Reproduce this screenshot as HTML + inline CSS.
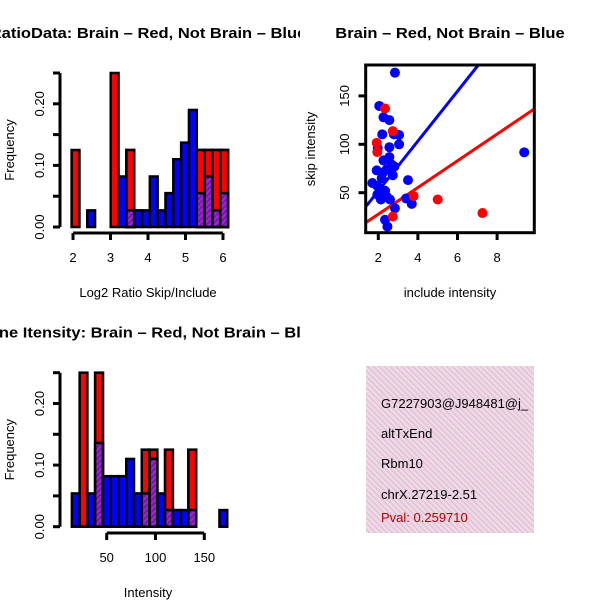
<!DOCTYPE html>
<html><head><meta charset="utf-8"><style>
html,body{margin:0;padding:0;background:#fff;}
svg{display:block;font-family:"Liberation Sans",sans-serif;}
</style></head><body>
<svg id="c" width="600" height="600" viewBox="0 0 600 600">
<defs>
<pattern id="hatchP" width="4" height="4" patternUnits="userSpaceOnUse" patternTransform="rotate(45)">
<rect width="4" height="4" fill="#a020f0"/><rect width="2" height="4" fill="#7a1a90"/></pattern>
<pattern id="hatchPink" width="4" height="4" patternUnits="userSpaceOnUse" patternTransform="rotate(-45)">
<rect width="4" height="4" fill="#f8d4f4"/><rect width="1.6" height="4" fill="#d6ccc2"/></pattern>
<clipPath id="clipL"><rect x="0" y="0" width="300" height="600"/></clipPath>
<clipPath id="clipS"><rect x="365.7" y="65" width="168.6" height="167.7"/></clipPath>
</defs>
<g id="h1"></g>
<g id="h2"></g>
<g id="sc"></g>
<g>
<rect x="366" y="366" width="168" height="167" fill="url(#hatchPink)"/>
<text x="381" y="408" font-size="13">G7227903@J948481@j_</text>
<text x="381" y="438" font-size="13">altTxEnd</text>
<text x="381" y="468" font-size="13">Rbm10</text>
<text x="381" y="499" font-size="13">chrX.27219-2.51</text>
<text x="381" y="522" font-size="13" fill="#b00000">Pval: 0.259710</text>
</g>
</svg>
<script>
// Histogram 1: log2 ratio, bin index -> heights
const h1Red = [0.125,0,0,0,0,0.25,0,0.125,0,0,0,0,0,0,0,0,0.125,0.125,0.125,0.125];
const h1Blue = [0,0,0.027,0,0,0,0.082,0.027,0.027,0.027,0.082,0.027,0.055,0.11,0.137,0.19,0.055,0.082,0.027,0.055];
const h1Start = 1.963, h1Width = 0.2086;
const h1XTicks = [2,3,4,5,6];
// Histogram 2: intensity
const h2Red = [0,0.25,0,0.25,0,0,0,0,0,0.125,0.125,0,0.125,0,0,0.125,0,0,0,0];
const h2Blue = [0.054,0,0.054,0.136,0.082,0.082,0.082,0.11,0.054,0.054,0.11,0.054,0.027,0.027,0.027,0.027,0,0,0,0.027];
const h2Start = 14.3, h2Width = 7.96;
const h2XTicks = [50,100,150];
const yTicks = [0,0.05,0.10,0.15,0.20,0.25];
const yTickLabels = ["0.00","","0.10","","0.20",""];
// Scatter
const blueX = [2.84,2.05,2.26,2.56,2.2,2.79,3.05,3.05,1.97,2.56,2.26,2.56,2.68,2.81,1.92,2.23,2.73,2.42,1.7,1.95,2.17,1.95,2.34,2.42,2.59,2.84,3.4,3.5,3.69,2.34,2.46,9.37,2.13];
const blueY = [174,139.6,127.9,125,110.3,110.3,109.6,100,96,97,83.4,86.8,79,77,73,70.7,68,74,60,57,65,48,52,46,43,34,44,63,38.5,22,15,91.7,43];
const redX = [2.34,1.92,1.95,2.73,3.78,5.0,7.26,2.73];
const redY = [137,101.5,92,113.6,46.5,43,29,25.3];
const blueFit = [0.35,25.75];
const redFit = [0.16,13.8];
const sxTicks = [2,4,6,8];
const syTicks = [50,100,150];

const NS="http://www.w3.org/2000/svg";
function mk(parent,tag,attrs,text){const e=document.createElementNS(NS,tag);for(const k in attrs)e.setAttribute(k,attrs[k]);if(text!==undefined)e.textContent=text;parent.appendChild(e);return e;}

function hist(g,red,blue,start,width,xTicks,xScale,y0,yAxisX,xAxisY,title,xlab,titleX){
  const yScale=v=>y0-v*616;
  for(let k=0;k<red.length;k++){
    const x1=xScale(start+k*width),x2=xScale(start+(k+1)*width);
    if(red[k]>0){const r=mk(g,'rect',{x:x1,y:yScale(red[k]),width:x2-x1,height:y0-yScale(red[k]),fill:'#ff0000',stroke:'#000','stroke-width':2.5});
      
      }
    if(blue[k]>0){const b=mk(g,'rect',{x:x1,y:yScale(blue[k]),width:x2-x1,height:y0-yScale(blue[k]),fill:'#0000ff',stroke:'#000','stroke-width':2.5});
      
      }
    const m=Math.min(red[k],blue[k]);
    if(m>0){
      if(red[k]>blue[k]){const r=mk(g,'rect',{x:x1,y:yScale(red[k]),width:x2-x1,height:y0-yScale(red[k]),fill:'#ff0000',stroke:'#000','stroke-width':2.5});
        
        }
      const p=mk(g,'rect',{x:x1,y:yScale(m),width:x2-x1,height:y0-yScale(m),fill:'url(#hatchP)',stroke:'#000','stroke-width':2.5});
      
      }
  }
  mk(g,'line',{x1:yAxisX,y1:yScale(0),x2:yAxisX,y2:yScale(0.25),stroke:'#000','stroke-width':3});
  yTicks.forEach((t,i)=>{const y=yScale(t);mk(g,'line',{x1:yAxisX-7,y1:y,x2:yAxisX,y2:y,stroke:'#000','stroke-width':3});
    if(yTickLabels[i]){const tl=mk(g,'text',{x:yAxisX-16,y:y,'font-size':13,'text-anchor':'middle',transform:`rotate(-90 ${yAxisX-16} ${y})`},yTickLabels[i]);
      
      }});
  const xa=xScale(xTicks[0]),xb=xScale(xTicks[xTicks.length-1]);
  mk(g,'line',{x1:xa,y1:xAxisY,x2:xb,y2:xAxisY,stroke:'#000','stroke-width':3});
  xTicks.forEach(t=>{const x=xScale(t);mk(g,'line',{x1:x,y1:xAxisY,x2:x,y2:xAxisY+7,stroke:'#000','stroke-width':3});
    const tl=mk(g,'text',{x:x,y:xAxisY+29,'font-size':13,'text-anchor':'middle'},String(t));
    
    });
  const yl=mk(g,'text',{x:14,y:y0-77,'font-size':13,'text-anchor':'middle',transform:`rotate(-90 14 ${y0-77})`},'Frequency');
  
  
  const xl=mk(g,'text',{x:148,y:xAxisY+64,'font-size':13,'text-anchor':'middle'},xlab);
  
  
  const tg=mk(g,'g',{'clip-path':'url(#clipL)'});
  const tt=mk(tg,'text',{x:titleX,y:y0-189,'font-size':14.5,'font-weight':'bold','text-anchor':'middle',transform:`translate(${titleX} 0) scale(1.14 1) translate(${-titleX} 0)`},title);
  
  
}
hist(document.getElementById('h1'),h1Red,h1Blue,h1Start,h1Width,h1XTicks,v=>73+(v-2)*37.5,227,60,233,'RatioData: Brain \u2013 Red, Not Brain \u2013 Blue','Log2 Ratio Skip/Include',148);
hist(document.getElementById('h2'),h2Red,h2Blue,h2Start,h2Width,h2XTicks,v=>106.7+(v-50)*0.976,526.7,60,533,'Exon/Gene Itensity: Brain \u2013 Red, Not Brain \u2013 Blue','Intensity',126);

(function(){
  const g=document.getElementById('sc');
  const xs=v=>338.7+v*19.8, ys=v=>192.7-(v-50)*0.968;
  const pg=mk(g,'g',{'clip-path':'url(#clipS)'});
  [[blueFit,'#0000ff'],[redFit,'#ff0000']].forEach(([f,c])=>{
    const l=mk(pg,'line',{x1:xs(1),y1:ys(f[0]+f[1]*1),x2:xs(11),y2:ys(f[0]+f[1]*11),stroke:c,'stroke-width':3});
    
    
  });
  blueX.forEach((x,i)=>{const c=mk(g,'circle',{cx:xs(x),cy:ys(blueY[i]),r:5,fill:'#0000ff'});
    
    });
  redX.forEach((x,i)=>{const c=mk(g,'circle',{cx:xs(x),cy:ys(redY[i]),r:5,fill:'#ff0000'});
    
    });
  mk(g,'rect',{x:365.7,y:65,width:168.6,height:167.7,fill:'none',stroke:'#000','stroke-width':3});
  sxTicks.forEach(t=>{const x=xs(t);mk(g,'line',{x1:x,y1:232.7,x2:x,y2:240,stroke:'#000','stroke-width':3});
    const tl=mk(g,'text',{x:x,y:262,'font-size':13,'text-anchor':'middle'},String(t));
    
    });
  syTicks.forEach(t=>{const y=ys(t);mk(g,'line',{x1:358.5,y1:y,x2:365.7,y2:y,stroke:'#000','stroke-width':3});
    const tl=mk(g,'text',{x:349,y:y,'font-size':13,'text-anchor':'middle',transform:`rotate(-90 349 ${y})`},String(t));
    
    });
  const xl=mk(g,'text',{x:450,y:297,'font-size':13,'text-anchor':'middle'},'include intensity');
  
  
  const yl=mk(g,'text',{x:315,y:149,'font-size':13,'text-anchor':'middle',transform:'rotate(-90 315 149)'},'skip intensity');
  
  
  const tt=mk(g,'text',{x:450,y:38,'font-size':14.5,'font-weight':'bold','text-anchor':'middle',transform:'translate(450 0) scale(1.14 1) translate(-450 0)'},'Brain \u2013 Red, Not Brain \u2013 Blue');
  
  
})();
</script>
</body></html>
